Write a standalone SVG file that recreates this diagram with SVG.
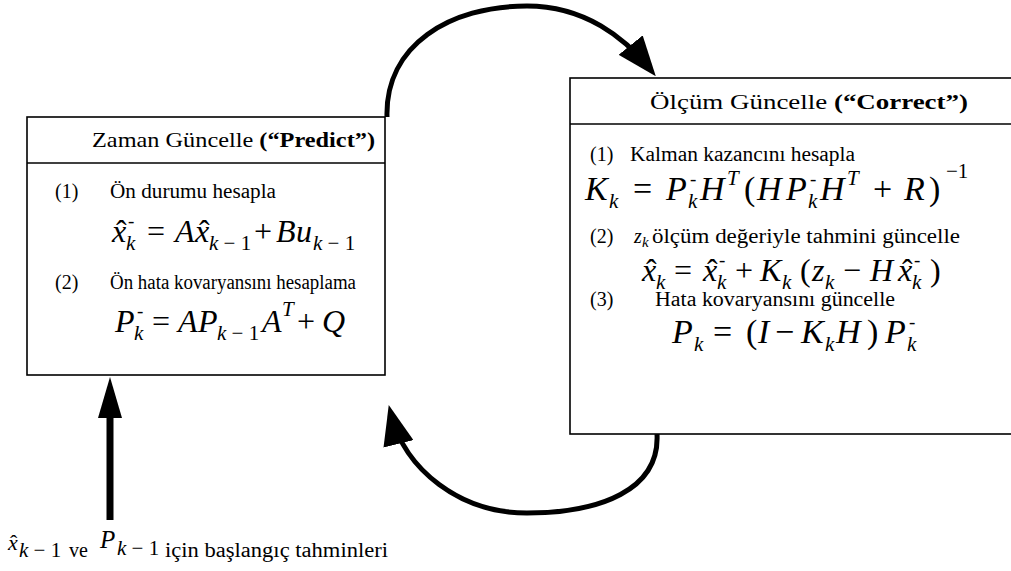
<svg xmlns="http://www.w3.org/2000/svg" width="1011" height="571" viewBox="0 0 1011 571">
<defs>
<style>
.box{fill:#fff;stroke:#000;stroke-width:1.6}
.sep{stroke:#000;stroke-width:1.6}
text{fill:#000;font-family:"Liberation Serif","Times New Roman",serif}
.h{font-size:21px}
.hb{font-weight:bold}
.t{font-size:20px}
.m{font-size:32px;font-style:italic}
.mu{font-size:32px}
.mb{font-size:34px;font-style:italic}
.mbu{font-size:34px}
.s{font-size:21px;font-style:italic}
.su{font-size:21px;font-style:normal}
.sg{font-size:19px}
.arc{fill:none;stroke:#000;stroke-width:5}
</style>
<marker id="ah" viewBox="0 0 13 10" refX="10" refY="5" markerWidth="40" markerHeight="31" markerUnits="userSpaceOnUse" orient="auto"><path d="M0,0 L13,5 L0,10 z" fill="#000"/></marker>
</defs>
<rect width="1011" height="571" fill="#fff"/>

<g id="connectors">
<path class="arc" d="M387 117 C385 45 450 6 527 6 C585 6 625 38 650 69" marker-end="url(#ah)"/>
<path class="arc" d="M657 434 C660 490 600 513 527 513 C460 513 405 470 391 414" marker-end="url(#ah)"/>
<line x1="110" y1="520" x2="110" y2="416" stroke="#000" stroke-width="7"/>
<polygon points="98,418 122,418 110,377" fill="#000"/>
</g>

<g id="predict">
<rect class="box" x="27" y="117" width="358" height="258"/>
<line class="sep" x1="27" y1="163" x2="385" y2="163"/>
<text class="h" x="92" y="147" textLength="283" lengthAdjust="spacingAndGlyphs">Zaman Güncelle  <tspan class="hb">(“Predict”)</tspan></text>
<text class="t" x="55" y="198">(1)</text>
<text class="t" x="110" y="198" textLength="166" lengthAdjust="spacingAndGlyphs">Ön durumu hesapla</text>
<g id="f1">
<text class="m" x="112" y="242">x</text><text class="mu" x="116" y="242">ˆ</text>
<text class="s" x="126" y="250">k</text><text class="sg" x="128" y="227">-</text>
<text class="mu" x="147" y="242">=</text>
<text class="m" x="175" y="242">A</text>
<text class="m" x="195" y="242">x</text><text class="mu" x="199" y="242">ˆ</text>
<text class="s" x="209" y="250">k<tspan class="su"> − 1</tspan></text>
<text class="mu" x="254" y="242">+</text>
<text class="m" x="276" y="242">B</text>
<text class="m" x="296" y="242">u</text>
<text class="s" x="313" y="250">k<tspan class="su"> − 1</tspan></text>
</g>
<text class="t" x="55" y="289">(2)</text>
<text class="t" x="110" y="289" textLength="246" lengthAdjust="spacingAndGlyphs">Ön hata kovaryansını hesaplama</text>
<g id="f2">
<text class="m" x="115" y="332">P</text>
<text class="s" x="134" y="340">k</text><text class="sg" x="137" y="317">-</text>
<text class="mu" x="152" y="332">=</text>
<text class="m" x="178" y="332">A</text>
<text class="m" x="198" y="332">P</text>
<text class="s" x="217" y="340">k<tspan class="su"> − 1</tspan></text>
<text class="m" x="262" y="332">A</text>
<text class="s" x="282" y="316">T</text>
<text class="mu" x="297" y="332">+</text>
<text class="m" x="322" y="332">Q</text>
</g>
</g>

<g id="correct">
<rect class="box" x="570" y="78" width="445" height="356"/>
<line class="sep" x1="570" y1="124" x2="1011" y2="124"/>
<text class="h" x="650" y="109" textLength="318" lengthAdjust="spacingAndGlyphs">Ölçüm Güncelle   <tspan class="hb">(“Correct”)</tspan></text>
<text class="t" x="590" y="161">(1)</text>
<text class="t" x="630" y="161" textLength="225" lengthAdjust="spacingAndGlyphs">Kalman kazancını hesapla</text>
<g id="f3">
<text class="mb" x="585" y="200">K</text>
<text class="s" x="609" y="208">k</text>
<text class="mbu" x="633" y="200">=</text>
<text class="mb" x="666" y="200">P</text>
<text class="s" x="688" y="208">k</text><text class="sg" x="690" y="185">-</text>
<text class="mb" x="700" y="200">H</text>
<text class="s" x="727" y="185">T</text>
<text class="mbu" x="744" y="200">(</text>
<text class="mb" x="757" y="200">H</text>
<text class="mb" x="786" y="200">P</text>
<text class="s" x="808" y="208">k</text><text class="sg" x="810" y="185">-</text>
<text class="mb" x="820" y="200">H</text>
<text class="s" x="847" y="185">T</text>
<text class="mbu" x="873" y="200">+</text>
<text class="mb" x="904" y="200">R</text>
<text class="mbu" x="929" y="200">)</text>
<text class="su" x="946" y="178">−1</text>
</g>
<text class="t" x="590" y="243">(2)</text>
<text x="634" y="243" font-size="20" font-style="italic">z</text>
<text x="642" y="247" font-size="15" font-style="italic">k</text>
<text class="t" x="652" y="243" textLength="308" lengthAdjust="spacingAndGlyphs">ölçüm değeriyle tahmini güncelle</text>
<g id="f4">
<text class="m" x="642" y="281">x</text><text class="mu" x="646" y="281">ˆ</text>
<text class="s" x="656" y="289">k</text>
<text class="mu" x="674" y="281">=</text>
<text class="m" x="703" y="281">x</text><text class="mu" x="707" y="281">ˆ</text>
<text class="s" x="717" y="289">k</text><text class="sg" x="719" y="266">-</text>
<text class="mu" x="735" y="281">+</text>
<text class="m" x="760" y="281">K</text>
<text class="s" x="782" y="289">k</text>
<text class="mu" x="800" y="281">(</text>
<text class="m" x="812" y="281">z</text>
<text class="s" x="825" y="289">k</text>
<text class="mu" x="843" y="281">−</text>
<text class="m" x="870" y="281">H</text>
<text class="m" x="898" y="281">x</text><text class="mu" x="902" y="281">ˆ</text>
<text class="s" x="912" y="289">k</text><text class="sg" x="914" y="266">-</text>
<text class="mu" x="930" y="281">)</text>
</g>
<text class="t" x="590" y="306">(3)</text>
<text class="t" x="655" y="306" textLength="240" lengthAdjust="spacingAndGlyphs">Hata kovaryansını güncelle</text>
<g id="f5">
<text class="mb" x="672" y="343">P</text>
<text class="s" x="694" y="351">k</text>
<text class="mbu" x="713" y="343">=</text>
<text class="mbu" x="746" y="343">(</text>
<text class="mb" x="758" y="343">I</text>
<text class="mbu" x="775" y="343">−</text>
<text class="mb" x="801" y="343">K</text>
<text class="s" x="825" y="351">k</text>
<text class="mb" x="836" y="343">H</text>
<text class="mbu" x="867" y="343">)</text>
<text class="mb" x="885" y="343">P</text>
<text class="s" x="907" y="351">k</text><text class="sg" x="909" y="328">-</text>
</g>
</g>

<g id="initial">
<text x="8" y="550" font-size="22" font-style="italic">x</text><text x="10" y="550" font-size="22">ˆ</text>
<text class="s" x="19" y="557">k<tspan class="su"> − 1</tspan></text>
<text class="t" x="69" y="557">ve</text>
<text x="100" y="548" font-size="25" font-style="italic">P</text>
<text class="s" x="117" y="555">k<tspan class="su"> − 1</tspan></text>
<text class="t" x="165" y="557" textLength="223" lengthAdjust="spacingAndGlyphs">için başlangıç tahminleri</text>
</g>
</svg>
